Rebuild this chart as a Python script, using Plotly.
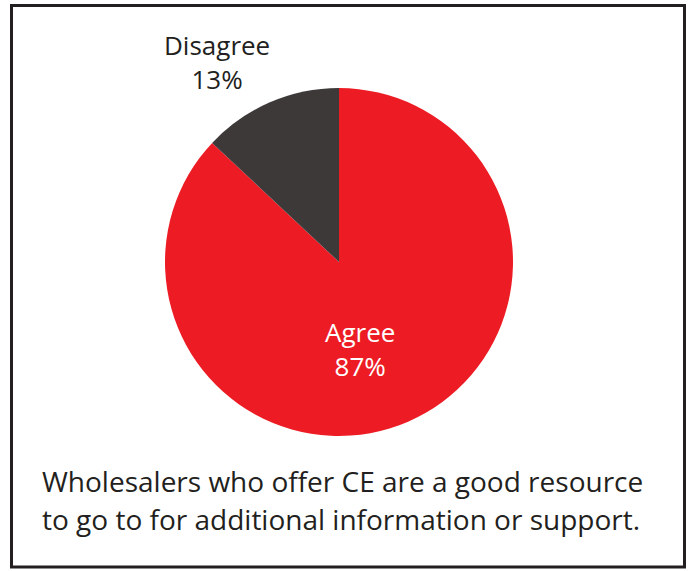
import plotly.graph_objects as go

labels = ["Agree", "Disagree"]
values = [87, 13]
colors = ["#ED1C24", "#3E3939"]
caption_lines = [
    "Wholesalers who offer CE are a good resource",
    "to go to for additional information or support.",
]

W, H = 691, 571
FONT = "Open Sans"


def fx(px_):
    return px_ / W


def fy(py_):
    return 1 - py_ / H


fig = go.Figure(
    go.Pie(
        labels=labels,
        values=values,
        sort=False,
        direction="clockwise",
        rotation=0,
        marker=dict(colors=colors, line=dict(width=0)),
        textinfo="none",
        hoverinfo="label+percent",
        domain=dict(x=[fx(165), fx(513)], y=[fy(436), fy(88)]),
        showlegend=False,
    )
)

# slice labels
label_pos = {"Agree": (360, 349, "white"), "Disagree": (216.5, 62, "#231F20")}
for lab, val in zip(labels, values):
    px_, py_, col = label_pos[lab]
    fig.add_annotation(
        x=fx(px_), y=fy(py_), xref="paper", yref="paper",
        xanchor="center", yanchor="middle",
        text=f"{lab}<br>{val}%", showarrow=False,
        font=dict(family=FONT, size=26, color=col),
        align="center",
    )

for i, line in enumerate(caption_lines):
    fig.add_annotation(
        x=fx(40), y=fy(481 + 38 * i), xref="paper", yref="paper",
        xanchor="left", yanchor="middle", align="left",
        text=line, showarrow=False,
        font=dict(family=FONT, size=28, color="#231F20"),
    )

# frame around the chart
fig.add_shape(
    type="rect", xref="paper", yref="paper",
    x0=fx(11.5), x1=fx(684.5), y0=fy(567), y1=fy(5.5),
    line=dict(color="#231F20", width=3),
)

fig.update_layout(
    width=W, height=H,
    margin=dict(l=0, r=0, t=0, b=0),
    paper_bgcolor="white",
    plot_bgcolor="white",
)

# drop the default page margin so the figure sits flush in the window
fig.write_html(
    "out.html",
    config={"displayModeBar": False},
    post_script="document.body.style.margin='0';document.body.style.overflow='hidden';",
)
